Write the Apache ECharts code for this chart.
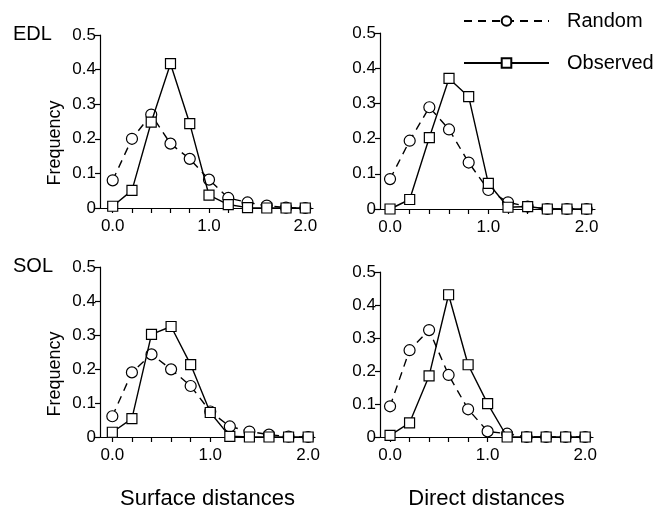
<!DOCTYPE html>
<html>
<head>
<meta charset="utf-8">
<script src="https://cdn.jsdelivr.net/npm/echarts@6/dist/echarts.min.js"></script>
<style>
html,body{margin:0;padding:0;background:#fff;}
#c{width:669px;height:511px;}
</style>
</head>
<body>
<div id="c"></div>
<script>
// Data
const distances = [0.0, 0.2, 0.4, 0.6, 0.8, 1.0, 1.2, 1.4, 1.6, 1.8, 2.0];
const xTickValues = [0.0, 0.2, 0.4, 0.6, 0.8, 1.0, 1.2, 1.4, 1.6, 1.8, 2.0];
const xLabelValues = [0.0, 1.0, 2.0];
const rowLabels = ['EDL', 'SOL'];
const columnTitles = ['Surface distances', 'Direct distances'];
const seriesNames = ['Random', 'Observed'];

const edlSurfaceRandom   = [0.080, 0.200, 0.270, 0.186, 0.142, 0.082, 0.029, 0.016, 0.007, 0.001, 0.000];
const edlSurfaceObserved = [0.005, 0.051, 0.248, 0.417, 0.244, 0.037, 0.010, 0.001, 0.000, 0.000, 0.000];
const edlDirectRandom    = [0.085, 0.194, 0.289, 0.226, 0.132, 0.054, 0.019, 0.007, 0.000, 0.000, 0.000];
const edlDirectObserved  = [0.000, 0.027, 0.203, 0.371, 0.319, 0.073, 0.005, 0.007, 0.000, 0.000, 0.000];
const solSurfaceRandom   = [0.061, 0.190, 0.243, 0.199, 0.150, 0.075, 0.031, 0.016, 0.007, 0.001, 0.000];
const solSurfaceObserved = [0.014, 0.054, 0.302, 0.325, 0.213, 0.072, 0.002, 0.000, 0.000, 0.000, 0.000];
const solDirectRandom    = [0.093, 0.263, 0.324, 0.188, 0.084, 0.017, 0.010, 0.000, 0.000, 0.000, 0.000];
const solDirectObserved  = [0.005, 0.043, 0.185, 0.431, 0.219, 0.101, 0.000, 0.000, 0.000, 0.000, 0.000];

const panels = [
  {random: edlSurfaceRandom, observed: edlSurfaceObserved},
  {random: edlDirectRandom,  observed: edlDirectObserved},
  {random: solSurfaceRandom, observed: solSurfaceObserved},
  {random: solDirectRandom,  observed: solDirectObserved}
];

// Layout
const FONT = 'Liberation Sans, Arial, Helvetica, sans-serif';
const grids = [
  {left: 100, top: 35,    width: 213, height: 173},
  {left: 380, top: 33,    width: 215, height: 176},
  {left: 100, top: 267,   width: 215, height: 178},
  {left: 380, top: 272,   width: 213, height: 173}
];
const xRanges = [
  [-0.132, 2.08],
  [-0.102, 2.085],
  [-0.126, 2.07],
  [-0.103, 2.08]
];

const pair = arr => distances.map((d, i) => [d, arr[i]]);

const option = {
  backgroundColor: '#fff',
  animation: false,
  grid: grids.map(g => Object.assign({containLabel: false}, g)),
  legend: {
    data: seriesNames,
    orient: 'vertical',
    left: 463,
    top: 11,
    padding: 0,
    itemWidth: 85,
    itemHeight: 12,
    itemGap: 22,
    textStyle: {fontFamily: FONT, fontSize: 20, color: '#000', padding: [0, 0, 0, 13]},
    inactiveColor: '#000'
  },
  title: [
    {text: rowLabels[0], left: 13, top: 24, padding: 0, textStyle: {fontFamily: FONT, fontSize: 20, fontWeight: 'normal', color: '#000'}},
    {text: rowLabels[1], left: 13, top: 256, padding: 0, textStyle: {fontFamily: FONT, fontSize: 20, fontWeight: 'normal', color: '#000'}}
  ],
  graphic: [
    {type: 'text', x: 55, y: 143, rotation: Math.PI / 2, style: {text: 'Frequency', font: '18px ' + FONT, fill: '#000', textAlign: 'center', textVerticalAlign: 'middle'}},
    {type: 'text', x: 55, y: 374, rotation: Math.PI / 2, style: {text: 'Frequency', font: '18px ' + FONT, fill: '#000', textAlign: 'center', textVerticalAlign: 'middle'}}
  ],
  xAxis: grids.map((g, i) => ({
    type: 'value',
    gridIndex: i,
    min: xRanges[i][0],
    max: xRanges[i][1],
    splitLine: {show: false},
    axisLine: {show: true, onZero: false, lineStyle: {color: '#000', width: 1.2}},
    axisTick: {show: true, inside: false, length: 5, customValues: xTickValues, lineStyle: {color: '#000', width: 1.2}},
    axisLabel: {show: true, customValues: xLabelValues, margin: 10, fontFamily: FONT, fontSize: 17, color: '#000',
      formatter: v => Number(v).toFixed(1)},
    name: i >= 2 ? columnTitles[i - 2] : '',
    nameLocation: 'middle',
    nameGap: 51,
    nameTextStyle: {fontFamily: FONT, fontSize: 22, color: '#000'}
  })),
  yAxis: grids.map((g, i) => ({
    type: 'value',
    gridIndex: i,
    min: 0,
    max: 0.5,
    interval: 0.1,
    splitLine: {show: false},
    axisLine: {show: true, onZero: false, lineStyle: {color: '#000', width: 1.2}},
    axisTick: {show: true, inside: false, length: 5, lineStyle: {color: '#000', width: 1.2}},
    axisLabel: {margin: 4, fontFamily: FONT, fontSize: 17, color: '#000',
      formatter: v => (Math.abs(v) < 1e-9 ? '0' : Number(v).toFixed(1))}
  })),
  series: []
};

panels.forEach((p, i) => {
  option.series.push({
    name: seriesNames[0],
    type: 'line',
    xAxisIndex: i, yAxisIndex: i,
    data: pair(p.random),
    symbol: 'circle',
    symbolSize: 11,
    showAllSymbol: true,
    lineStyle: {color: '#000', width: 1.4, type: [8, 6]},
    itemStyle: {color: '#fff', borderColor: '#000', borderWidth: 1.2},
    z: 2
  });
  option.series.push({
    name: seriesNames[1],
    type: 'line',
    xAxisIndex: i, yAxisIndex: i,
    data: pair(p.observed),
    symbol: 'rect',
    symbolSize: 10,
    showAllSymbol: true,
    lineStyle: {color: '#000', width: 1.4, type: 'solid'},
    itemStyle: {color: '#fff', borderColor: '#000', borderWidth: 1.2},
    z: 3
  });
});

const chart = echarts.init(document.getElementById('c'), null, {renderer: 'canvas'});
chart.setOption(option);
</script>
</body>
</html>
